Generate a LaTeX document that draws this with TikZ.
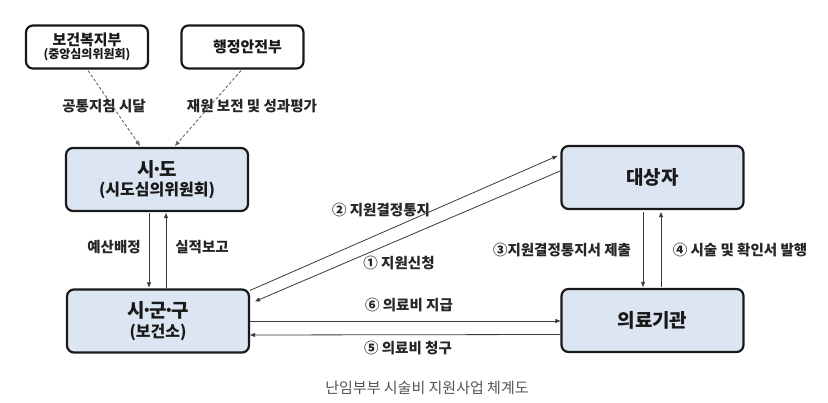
\documentclass[tikz,border=0pt]{standalone}
\usepackage{fontspec}
\setmainfont{Noto Sans CJK KR}
\usetikzlibrary{arrows.meta,calc}
\definecolor{boxblue}{HTML}{DCE6F2}
\definecolor{lncol}{HTML}{3A3A3A}
\definecolor{capcol}{HTML}{555555}
\newcommand{\mdt}{\kern-3.5pt·\kern-3.5pt}
\tikzset{
  bx/.style={draw=black!90, line width=2.2pt, rounded corners=7pt, minimum width=182pt, minimum height=63pt, align=center, font=\bfseries, text=black!90},
  wbx/.style={bx, fill=white, minimum width=122pt, minimum height=43pt},
  bbx/.style={bx, fill=boxblue},
  arr/.style={draw=lncol, line width=0.8pt, -{Triangle[length=5pt,width=4pt]}},
  darr/.style={draw=black!60, line width=0.9pt, dash pattern=on 3pt off 2pt, -{Triangle[length=5pt,width=4pt]}},
  lbl/.style={font=\bfseries\fontsize{14.5}{16}\selectfont, text=black!85, inner sep=1pt},
}
\begin{document}
\begin{tikzpicture}[x=1pt,y=-1pt]
\useasboundingbox (0,0) rectangle (828,403);
% boxes
\node[wbx] (mohw) at (87,47) {\fontsize{15}{17}\selectfont 보건복지부\\[1pt]\fontsize{12}{13}\selectfont(중앙심의위원회)};
\node[wbx, text width=110pt] (mois) at (242.5,47) {\hspace*{10pt}\fontsize{15}{17}\selectfont 행정안전부};
\node[bbx] (sido) at (157,179.5) {\fontsize{19}{22}\selectfont 시\mdt 도\\[3pt]\fontsize{16}{18}\selectfont(시도심의위원회)};
\node[bbx] (sigungu) at (158,321) {\fontsize{19}{22}\selectfont 시\mdt 군\mdt 구\\[3pt]\fontsize{16}{18}\selectfont(보건소)};
\node[bbx] (daesang) at (652.5,177.5) {\fontsize{19}{22}\selectfont 대상자};
\node[bbx] (yiryo) at (652.5,320.5) {\fontsize{19}{22}\selectfont 의료기관};
% dashed arrows
\draw[darr] ($(mohw.south)+(1,1)$) -- ($(sido.north)+(-17,-1)$);
\draw[darr] ($(mois.south)+(-1.5,1)$) -- ($(sido.north)+(18,-1)$);
\node[lbl] (l1) at (104,106) {공통지침 시달};
\node[lbl] (l2) at (252,106) {재원 보전 및 성과평가};
% sido <-> sigungu
\draw[arr] ($(sido.south)+(-8,1)$) -- ($(sido.south |- sigungu.north)+(-8,-1)$);
\draw[arr] ($(sido.south |- sigungu.north)+(9,0)$) -- ($(sido.south)+(9,1)$);
\node[lbl] (l3) at (114,247) {예산배정};
\node[lbl] (l4) at (202,247) {실적보고};
% diagonals
\draw[arr] ($(sigungu.north east)+(0,2)$) -- ($(daesang.north west)+(-3,11)$);
\draw[arr] ($(daesang.north west)+(0,26)$) -- ($(sigungu.north east)+(5,13)$);
\node[lbl] (l5) at (381,210) {② 지원결정통지};
\node[lbl] (l6) at (399,263) {① 지원신청};
% horizontals
\draw[arr] (sigungu.east) -- (sigungu.east -| yiryo.west);
\draw[arr] ($(yiryo.west)+(0,14)$) -- ($(sigungu.east)+(0,14)$);
\node[lbl] (l7) at (409,305) {⑥ 의료비 지급};
\node[lbl] (l8) at (408,348) {⑤ 의료비 청구};
% right verticals
\draw[arr] ($(daesang.south)+(-9.5,2)$) -- ($(daesang.south |- yiryo.north)+(-9.5,-1)$);
\draw[arr] ($(daesang.south |- yiryo.north)+(8.5,-1)$) -- ($(daesang.south)+(8.5,2)$);
\node[lbl] (l9) at (562,250) {③지원결정통지서 제출};
\node[lbl] (l10) at (740,250) {④ 시술 및 확인서 발행};
% caption
\node[font=\fontsize{15}{17}\selectfont, text=capcol] (cap) at (427,388) {난임부부 시술비 지원사업 체계도};
\end{tikzpicture}
\end{document}
